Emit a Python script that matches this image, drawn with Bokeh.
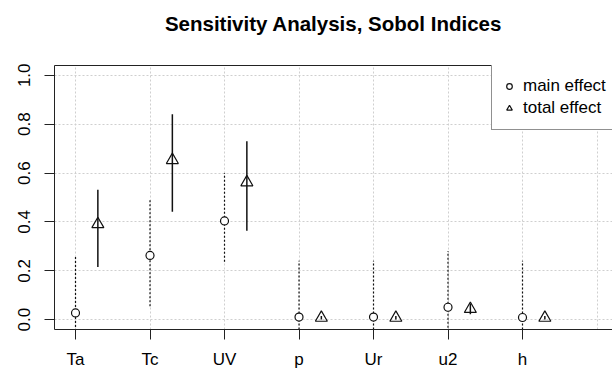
import math
from bokeh.plotting import figure
from bokeh.models import (FixedTicker, Range1d, LinearAxis, Legend, LegendItem,
                          ColumnDataSource, Title)
from bokeh.embed import file_html
from bokeh.resources import INLINE

# ---- data ----
title_text = "Sensitivity Analysis, Sobol Indices"
params = ["Ta", "Tc", "UV", "p", "Ur", "u2", "h"]
main_effect = [0.028, 0.263, 0.404, 0.011, 0.011, 0.051, 0.009]
main_low = [-0.21, 0.055, 0.237, -0.22, -0.22, -0.18, -0.22]
main_high = [0.263, 0.492, 0.600, 0.241, 0.241, 0.281, 0.241]
total_effect = [0.391, 0.653, 0.562, 0.008, 0.008, 0.044, 0.008]
total_low = [0.216, 0.442, 0.364, 0.001, 0.001, 0.022, 0.001]
total_high = [0.532, 0.841, 0.730, 0.015, 0.015, 0.066, 0.015]
y_ticks = [0.0, 0.2, 0.4, 0.6, 0.8, 1.0]
y_tick_labels = ["0.0", "0.2", "0.4", "0.6", "0.8", "1.0"]
offset = 0.3

FONT = "Liberation Sans"

xs = [i + 1 for i in range(len(params))]
xs_t = [x + offset for x in xs]

main_src = ColumnDataSource(dict(x=xs, y=main_effect, lo=main_low, hi=main_high))
tot_src = ColumnDataSource(dict(x=xs_t, y=total_effect, lo=total_low, hi=total_high))

p = figure(width=612, height=371, output_backend="svg", toolbar_location=None,
           title=None,
           x_range=Range1d(0.718, 8.208), y_range=Range1d(-0.04, 1.04),
           min_border_left=54, min_border_right=0, min_border_top=65,
           min_border_bottom=39, background_fill_color="white",
           border_fill_color="white")
p.outline_line_color = None

# grid
p.xgrid.ticker = FixedTicker(ticks=list(range(1, len(params) + 2)))
p.ygrid.ticker = FixedTicker(ticks=y_ticks)
for g in (p.xgrid, p.ygrid):
    g.grid_line_color = "#cfcfcf"
    g.grid_line_dash = "2 2"
    g.grid_line_width = 1

# x axis
xa = p.xaxis[0]
xa.ticker = FixedTicker(ticks=xs)
xa.major_label_overrides = {x: name for x, name in zip(xs, params)}
xa.major_tick_out = 10
xa.major_tick_in = 0
xa.minor_tick_out = 0
xa.minor_tick_in = 0
xa.major_label_standoff = 10
xa.major_label_text_font = FONT
xa.major_label_text_font_size = "17px"
xa.major_label_text_color = "black"
xa.axis_line_color = "#222222"
xa.major_tick_line_color = "#222222"

# y axis
ya = p.yaxis[0]
ya.ticker = FixedTicker(ticks=y_ticks)
ya.major_label_overrides = {t: l for t, l in zip(y_ticks, y_tick_labels)}
ya.major_label_orientation = "vertical"
ya.major_tick_out = 10
ya.major_tick_in = 0
ya.minor_tick_out = 0
ya.minor_tick_in = 0
ya.major_label_standoff = 14
ya.major_label_text_font = FONT
ya.major_label_text_font_size = "17px"
ya.major_label_text_color = "black"
ya.axis_line_color = "#222222"
ya.major_tick_line_color = "#222222"

# top border (nearest the frame)
top = LinearAxis(ticker=FixedTicker(ticks=[]), major_label_text_font_size="0px",
                 major_tick_out=0, major_tick_in=0, minor_tick_out=0, minor_tick_in=0,
                 axis_line_color="#222222")
p.add_layout(top, "above")

# spacer between frame and title, then the title itself (outermost)
p.add_layout(Title(text=" ", text_font_size="10px", standoff=18), "above")
p.add_layout(Title(text=title_text, text_font=FONT, text_font_size="20.5px",
                   text_font_style="bold", text_color="black", align="center",
                   standoff=0), "above")

# error bars
p.segment(x0="x", y0="lo", x1="x", y1="hi", source=main_src,
          line_color="#111111", line_width=1.2, line_dash="2 2")
p.segment(x0="x", y0="lo", x1="x", y1="hi", source=tot_src,
          line_color="#111111", line_width=1.5)

# points
r_main = p.scatter(x="x", y="y", source=main_src, marker="circle", size=8,
                   fill_color="white", line_color="#111111", line_width=1.2)
r_tot = p.scatter(x="x", y="y", source=tot_src, marker="triangle", size=12,
                  fill_color=None, line_color="#111111", line_width=1.2)

legend = Legend(items=[LegendItem(label="main effect", renderers=[r_main]),
                       LegendItem(label="total effect", renderers=[r_tot])],
                location=(437, 199), padding=10, spacing=0,
                glyph_width=14, glyph_height=22, label_height=22,
                label_standoff=7, label_text_font=FONT,
                label_text_font_size="17px", label_text_color="black",
                border_line_color="#222222", border_line_width=1,
                background_fill_color="white", background_fill_alpha=1.0,
                margin=0)
p.add_layout(legend, "center")

open("out.html", "w").write(file_html(p, INLINE))
